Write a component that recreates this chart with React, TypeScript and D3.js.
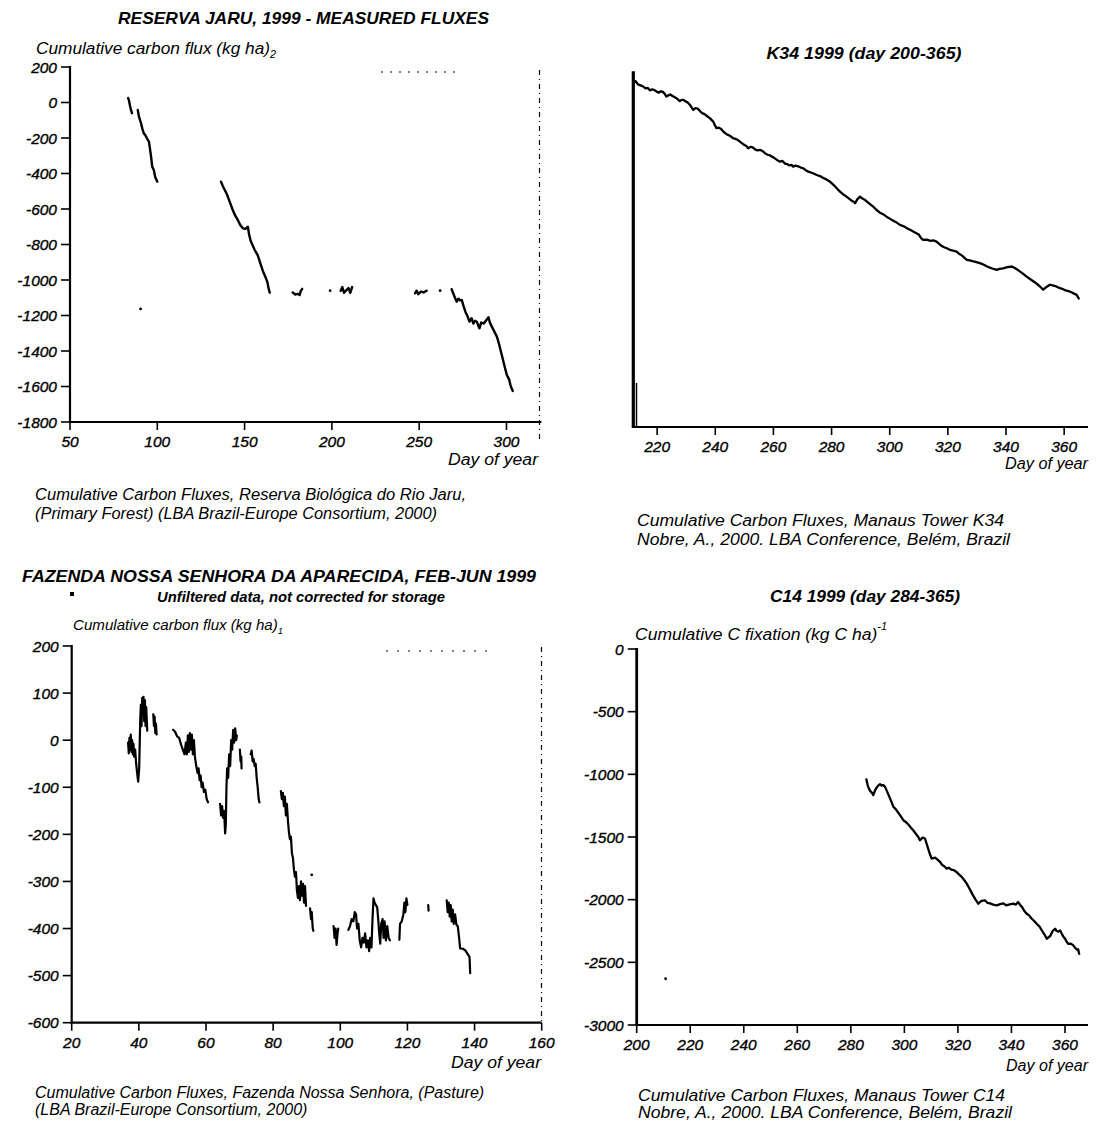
import React from "react";
import * as d3 from "d3";

type Pt = [number, number];

// ---------- Panel 1: Reserva Jaru ----------
const jaruXTicks = [50, 100, 150, 200, 250, 300];
const jaruYTicks = [200, 0, -200, -400, -600, -800, -1000, -1200, -1400, -1600, -1800];
const jaruSeg1: Pt[] = [[83.3, 25], [83.8, 10], [84.4, -20], [85.0, -45], [85.5, -60]];
const jaruSeg2: Pt[] = [[88.8, -42], [89.5, -80], [90.5, -110], [91.5, -150], [92.3, -174], [93.2, -185], [94.0, -200], [95.2, -221], [95.8, -260], [96.5, -310], [97.1, -362], [98.0, -380], [98.8, -420], [100.0, -446]];
const jaruSeg3: Pt[] = [[136.5, -446], [137.5, -470], [138.5, -490], [140.0, -520], [141.5, -560], [143.0, -600], [144.5, -635], [146.0, -660], [147.5, -690], [149.0, -709], [150.5, -712], [151.9, -700], [152.5, -740], [153.5, -780], [155.8, -831], [157.5, -860], [159.0, -905], [160.5, -950], [162.0, -985], [163.0, -1010], [163.8, -1050], [164.4, -1071]];
const jaruSeg4: Pt[] = [[177.5, -1070], [179, -1082], [180.5, -1078], [181.5, -1085], [182.3, -1060], [183, -1050]];
const jaruSeg5: Pt[] = [[205, -1062], [206, -1040], [207, -1072], [208.5, -1055], [209.5, -1045], [210.5, -1072], [211.6, -1040]];
const jaruSeg6: Pt[] = [[247.6, -1075], [248.5, -1060], [249.5, -1080], [251, -1065], [252.5, -1070], [254.3, -1060]];
const jaruSeg7: Pt[] = [[268.6, -1052], [269.5, -1075], [270.5, -1100], [271.5, -1122], [272.5, -1105], [273.5, -1115], [274.4, -1113], [275.5, -1150], [276.5, -1180], [277.5, -1200], [278.8, -1235], [280, -1215], [281, -1245], [282, -1230], [283, -1235], [284.5, -1272], [285.5, -1240], [287, -1245], [288.5, -1225], [289.7, -1210], [290.5, -1240], [292, -1270], [294.5, -1319], [296, -1370], [297.5, -1430], [299, -1490], [300.2, -1535], [301.5, -1560], [302.5, -1600], [303.6, -1625]];
const jaruDots: Pt[] = [[90.4, -1163], [199, -1060], [262, -1060]];

// ---------- Panel 2: K34 ----------
const k34XTicks = [220, 240, 260, 280, 300, 320, 340, 360];
const k34Series: Pt[] = [[212.0, 140], [212.6, 150], [213.4, 132], [214.5, 125], [215.3, 118], [216.0, 110], [216.8, 112], [217.5, 98], [218.3, 104], [219.0, 100], [219.8, 92], [220.5, 85], [221.2, 93], [222.0, 90], [222.6, 78], [223.2, 63], [223.9, 70], [224.5, 75], [225.3, 66], [226.0, 60], [226.8, 52], [227.8, 38], [228.4, 44], [229.0, 45], [229.8, 36], [230.5, 30], [231.4, 14], [232.4, -12], [233.2, -2], [234, -5], [234.8, -20], [235.5, -30], [236.3, -36], [237, -45], [238.2, -60], [239.3, -78], [239.9, -100], [240.4, -115], [241.2, -112], [242, -120], [243, -138], [244, -150], [245, -158], [246.2, -172], [247.1, -176], [248, -185], [249, -198], [250, -210], [250.7, -216], [251.3, -228], [252.2, -220], [253, -225], [253.8, -236], [254.5, -240], [255.5, -238], [256.5, -247], [257.2, -258], [258, -265], [259, -270], [260, -280], [261.2, -294], [262.3, -304], [263.1, -300], [264, -315], [264.8, -318], [265.5, -325], [266.2, -322], [266.8, -332], [267.6, -326], [268.5, -330], [269.4, -337], [270.2, -341], [271.1, -352], [272, -360], [273.4, -368], [274.9, -379], [276, -385], [277, -395], [278.2, -404], [279.4, -416], [280.2, -428], [281, -440], [282, -458], [282.9, -473], [284, -488], [285, -500], [286, -512], [287, -525], [287.6, -530], [288.1, -538], [288.9, -515], [289.8, -501], [290.6, -512], [291.5, -520], [293, -540], [294.3, -557], [295.4, -575], [296.5, -590], [297.7, -600], [298.9, -614], [300, -625], [301, -635], [302.2, -645], [303.5, -660], [304.8, -668], [306, -680], [307, -688], [308.1, -698], [309, -706], [310, -715], [310.8, -735], [311.5, -745], [312.8, -744], [314, -750], [315, -748], [316.1, -755], [317.3, -772], [318.5, -785], [319.6, -792], [320.7, -801], [321.8, -805], [323, -811], [324, -825], [325, -835], [325.8, -848], [326.5, -857], [327.5, -860], [328.5, -865], [329.8, -870], [331, -876], [332.2, -884], [333.5, -895], [335, -905], [336.8, -914], [337.8, -908], [339, -905], [340.5, -898], [342, -895], [343.2, -905], [344.5, -920], [345.8, -935], [347.1, -952], [348.5, -968], [350, -985], [351.5, -1005], [352.8, -1026], [353.8, -1012], [355.1, -998], [356, -1002], [357, -1005], [357.8, -1012], [358.6, -1017], [359.5, -1022], [360.5, -1030], [361.5, -1034], [362.5, -1040], [363.4, -1048], [364.3, -1055], [365, -1075]];

// ---------- Panel 3: Fazenda ----------
const fazXTicks = [20, 40, 60, 80, 100, 120, 140, 160];
const fazYTicks = [200, 100, 0, -100, -200, -300, -400, -500, -600];
const fazSegA: Pt[] = [[36.8, -5], [37.0, -28], [37.2, 5], [37.4, -20], [37.6, 12], [37.8, -25], [38.0, 0], [38.2, -30], [38.4, -8], [38.6, -35], [38.9, -20], [39.2, -50], [39.5, -70], [39.8, -88], [40.1, -60], [40.4, 40], [40.6, 75], [40.8, 30], [41.0, 90], [41.2, 55], [41.4, 92], [41.6, 40], [41.8, 85], [42.0, 30], [42.2, 70], [42.5, 20]];
const fazSegB: Pt[] = [[44.3, 55], [44.5, 30], [44.7, 50], [44.9, 15], [45.1, 35], [45.3, 12]];
const fazSegC: Pt[] = [[50.2, 22], [50.8, 18], [51.4, 8], [52.0, 5], [52.6, -10], [53.2, -22], [53.6, -30], [54.0, -5], [54.3, -30], [54.6, 10], [54.9, -25], [55.2, 15], [55.5, -20], [55.8, 12], [56.1, -30], [56.4, 0], [56.7, -35], [57.1, -55], [57.5, -70], [57.8, -60], [58.1, -85], [58.4, -75], [58.7, -100], [59.0, -90], [59.4, -110], [59.8, -105], [60.2, -125], [60.6, -132]];
const fazSegD: Pt[] = [[64.2, -135], [64.5, -160], [64.8, -140], [65.1, -165], [65.4, -150], [65.7, -198], [65.9, -180], [66.1, -100], [66.3, -60], [66.6, -80], [66.9, -30], [67.2, -55], [67.5, 0], [67.8, -20], [68.1, 22], [68.4, -5], [68.7, 25], [69.0, 0], [69.2, 10]];
const fazSegE: Pt[] = [[70.1, -20], [70.3, -45], [70.5, -35], [70.6, -60]];
const fazSegF: Pt[] = [[73.3, -30], [73.6, -22], [73.9, -45], [74.2, -40], [74.5, -55], [74.8, -50], [75.1, -80], [75.4, -100], [75.7, -125], [75.9, -132]];
const fazSegG: Pt[] = [[82.3, -108], [82.6, -125], [82.9, -112], [83.2, -140], [83.5, -120], [83.8, -160], [84.1, -135], [84.4, -170], [84.7, -195], [85.0, -210], [85.3, -205], [85.6, -240], [85.9, -250], [86.2, -275], [86.5, -290], [86.8, -280], [87.1, -320], [87.4, -335], [87.7, -310], [88.0, -340], [88.3, -300], [88.6, -330], [88.9, -305], [89.2, -345], [89.5, -310], [89.8, -352]];
const fazSegH: Pt[] = [[91.0, -357], [91.3, -380], [91.5, -365], [91.8, -400], [92.0, -405]];
const fazSegI: Pt[] = [[98.0, -395], [98.3, -420], [98.6, -400], [98.9, -435], [99.2, -410], [99.4, -400]];
const fazSegJ: Pt[] = [[102.4, -403], [102.9, -395], [103.4, -380], [103.9, -385], [104.3, -365], [104.7, -370], [105.0, -400], [105.4, -390], [105.8, -425], [106.2, -440], [106.6, -420], [107.0, -430], [107.4, -410], [107.8, -440], [108.2, -425], [108.6, -448], [108.9, -420], [109.3, -440], [109.6, -380], [109.9, -336], [110.2, -345], [110.6, -350], [111.0, -355], [111.3, -380], [111.6, -410], [111.9, -432], [112.2, -390], [112.6, -380], [112.9, -420], [113.2, -385], [113.6, -425], [114.0, -395], [114.4, -420], [114.8, -425]];
const fazSegK: Pt[] = [[117.6, -424], [117.8, -390], [118.3, -385], [118.8, -370], [119.1, -345], [119.4, -365], [119.7, -336], [120.0, -350]];
const fazSegL: Pt[] = [[126.2, -350], [126.3, -362]];
const fazSegM: Pt[] = [[131.7, -340], [132.0, -365], [132.3, -345], [132.6, -375], [132.9, -350], [133.2, -385], [133.5, -360], [133.8, -390], [134.2, -370], [134.6, -392], [135.0, -395], [135.4, -420], [135.7, -442], [136.5, -443], [137.2, -446], [138.0, -455], [138.5, -460], [138.7, -495]];
const fazDots: Pt[] = [[91.5, -286]];

// ---------- Panel 4: C14 ----------
const c14XTicks = [200, 220, 240, 260, 280, 300, 320, 340, 360];
const c14YTicks = [0, -500, -1000, -1500, -2000, -2500, -3000];
const c14Series: Pt[] = [[285.8, -1040], [286.2, -1080], [286.5, -1100], [287.0, -1125], [287.5, -1140], [288.0, -1150], [288.4, -1166], [289.0, -1130], [289.5, -1110], [290.2, -1090], [290.9, -1078], [291.5, -1090], [292.0, -1085], [292.8, -1100], [293.4, -1130], [294.0, -1160], [295.0, -1210], [295.9, -1260], [296.7, -1275], [297.5, -1300], [298.5, -1330], [299.6, -1366], [300.5, -1380], [301.5, -1400], [302.4, -1425], [303.3, -1446], [304.5, -1480], [305.2, -1500], [305.8, -1526], [306.8, -1505], [307.7, -1512], [308.4, -1560], [309.0, -1600], [309.6, -1640], [310.2, -1672], [311.5, -1665], [312.7, -1686], [313.4, -1700], [314, -1720], [315, -1735], [315.8, -1752], [316.6, -1745], [317.5, -1760], [318.5, -1765], [319.5, -1779], [320.5, -1800], [321.5, -1820], [322.4, -1845], [323.3, -1872], [324.4, -1915], [325.5, -1960], [326.6, -2000], [327.6, -2032], [328.8, -2010], [330.1, -2005], [331, -2025], [332, -2030], [333.2, -2040], [334.5, -2045], [335.8, -2035], [337, -2030], [338, -2045], [339, -2040], [340.7, -2032], [341.6, -2040], [342.5, -2019], [343.2, -2040], [344, -2060], [344.8, -2090], [345.7, -2112], [346.6, -2125], [347.5, -2150], [348.5, -2170], [349.4, -2192], [350.5, -2215], [351.5, -2250], [352.4, -2280], [353.2, -2312], [353.9, -2300], [354.5, -2290], [355.4, -2250], [356.3, -2232], [356.9, -2250], [357.5, -2255], [358.2, -2245], [358.8, -2272], [359.4, -2295], [360, -2310], [360.6, -2335], [361.2, -2352], [362.2, -2350], [363.1, -2365], [363.8, -2385], [364.5, -2400], [364.9, -2395], [365.3, -2432]];
const c14Dots: Pt[] = [[210.8, -2631]];

const FONT = "'Liberation Sans', Arial, Helvetica, sans-serif";

type PanelProps = {
  xDomain: [number, number];
  xRange: [number, number];
  yDomain: [number, number];
  yRange: [number, number];
  xTicks: number[];
  yTicks: number[] | null;
  segments: Pt[][];
  dots: Pt[];
  lineWidth: number;
  yAxisWidth?: number;
};

function Panel(p: PanelProps) {
  const x = d3.scaleLinear().domain(p.xDomain).range(p.xRange);
  const y = d3.scaleLinear().domain(p.yDomain).range(p.yRange);
  const line = d3.line<Pt>().x((d) => x(d[0])).y((d) => y(d[1])).curve(d3.curveLinear);
  const x0 = p.xRange[0];
  const yb = p.yRange[0];
  const yt = p.yRange[1];
  return (
    <g>
      {p.segments.map((s, i) => (
        <path key={i} d={line(s) || ""} fill="none" stroke="#000" strokeWidth={p.lineWidth} strokeLinejoin="round" strokeLinecap="round" />
      ))}
      {p.dots.map((d, i) => (
        <circle key={"d" + i} cx={x(d[0])} cy={y(d[1])} r={1.4} fill="#000" />
      ))}
      <line x1={x0} x2={x0} y1={yt - 1} y2={yb + 1} stroke="#000" strokeWidth={p.yAxisWidth || 2.2} />
      <line x1={x0 - 1} x2={p.xRange[1]} y1={yb} y2={yb} stroke="#000" strokeWidth={2.2} />
      {p.xTicks.map((t) => (
        <g key={"xt" + t}>
          <line x1={x(t)} x2={x(t)} y1={yb} y2={yb + 8} stroke="#000" strokeWidth={1.6} />
          <text x={x(t)} y={yb + 25} textAnchor="middle" fontSize={15.5} fontStyle="italic" fontFamily={FONT} stroke="#000" strokeWidth={0.35}>{t}</text>
        </g>
      ))}
      {p.yTicks && p.yTicks.map((t) => (
        <g key={"yt" + t}>
          <line x1={x0 - 9} x2={x0} y1={y(t)} y2={y(t)} stroke="#000" strokeWidth={1.6} />
          <text x={x0 - 13} y={y(t)} dy="0.36em" textAnchor="end" fontSize={15.5} fontStyle="italic" fontFamily={FONT} stroke="#000" strokeWidth={0.35}>{t}</text>
        </g>
      ))}
    </g>
  );
}

function T(props: { x: number; y: number; w?: number; size?: number; bold?: boolean; anchor?: "start" | "middle" | "end"; children: React.ReactNode }) {
  return (
    <text
      x={props.x}
      y={props.y}
      fontSize={props.size || 16}
      fontStyle="italic"
      fontWeight={props.bold ? "bold" : "normal"}
      fontFamily={FONT}
      textAnchor={props.anchor || "start"}
      textLength={props.w}
      lengthAdjust={props.w ? "spacingAndGlyphs" : undefined}
    >
      {props.children}
    </text>
  );
}

export default function App() {
  return (
    <svg width={1104} height={1126} viewBox="0 0 1104 1126" style={{ position: "absolute", left: 0, top: 0, background: "#fff" }}>
      <rect x={0} y={0} width={1104} height={1126} fill="#fff" />

      {/* ===== Panel 1: Reserva Jaru ===== */}
      <T x={303.5} y={24} w={371} size={17} bold anchor="middle">RESERVA JARU, 1999 - MEASURED FLUXES</T>
      <T x={36} y={54} w={240}>Cumulative carbon flux (kg ha)<tspan fontSize={10} dy={4}>2</tspan></T>
      <Panel
        xDomain={[50, 320]} xRange={[70, 541.4]}
        yDomain={[-1800, 200]} yRange={[422, 67]}
        xTicks={jaruXTicks} yTicks={jaruYTicks}
        segments={[jaruSeg1, jaruSeg2, jaruSeg3, jaruSeg4, jaruSeg5, jaruSeg6, jaruSeg7]}
        dots={jaruDots} lineWidth={2.4}
      />
      <line x1={381} x2={462} y1={72} y2={72} stroke="#000" strokeWidth={1} strokeDasharray="2 7" />
      <line x1={539.5} x2={539.5} y1={70} y2={440} stroke="#000" strokeWidth={1.2} strokeDasharray="5 4 1 4" />
      <T x={538} y={465} w={90} anchor="end">Day of year</T>
      <T x={35} y={500} w={431}>Cumulative Carbon Fluxes, Reserva Biológica do Rio Jaru,</T>
      <T x={35} y={519} w={402}>(Primary Forest) (LBA Brazil-Europe Consortium, 2000)</T>

      {/* ===== Panel 2: K34 ===== */}
      <T x={864} y={59} w={195} size={17} bold anchor="middle">K34 1999 (day 200-365)</T>
      <Panel
        xDomain={[211.8, 368.2]} xRange={[633.3, 1088]}
        yDomain={[-1800, 200]} yRange={[427, 72.3]}
        xTicks={k34XTicks} yTicks={null}
        segments={[k34Series]} dots={[]} lineWidth={2.3} yAxisWidth={3.2}
      />
      <line x1={636.5} x2={636.5} y1={383} y2={426} stroke="#000" strokeWidth={1.5} />
      <T x={1088} y={469} w={83} anchor="end">Day of year</T>
      <T x={637} y={526} w={367}>Cumulative Carbon Fluxes, Manaus Tower K34</T>
      <T x={637} y={545} w={373}>Nobre, A., 2000. LBA Conference, Belém, Brazil</T>

      {/* ===== Panel 3: Fazenda ===== */}
      <T x={279} y={582} w={514} size={16} bold anchor="middle">FAZENDA NOSSA SENHORA DA APARECIDA, FEB-JUN 1999</T>
      <T x={301} y={602} w={288} size={14} bold anchor="middle">Unfiltered data, not corrected for storage</T>
      <rect x={70} y={592} width={4} height={4} fill="#000" />
      <T x={73} y={630} w={210} size={14.5}>Cumulative carbon flux (kg ha)<tspan fontSize={9} dy={4}>1</tspan></T>
      <Panel
        xDomain={[20, 160]} xRange={[71.7, 541.7]}
        yDomain={[-600, 200]} yRange={[1022.7, 646]}
        xTicks={fazXTicks} yTicks={fazYTicks}
        segments={[fazSegA, fazSegB, fazSegC, fazSegD, fazSegE, fazSegF, fazSegG, fazSegH, fazSegI, fazSegJ, fazSegK, fazSegL, fazSegM]}
        dots={fazDots} lineWidth={2.2}
      />
      <line x1={386} x2={490} y1={651} y2={651} stroke="#000" strokeWidth={1} strokeDasharray="2 9" />
      <line x1={541.5} x2={541.5} y1={647} y2={1022} stroke="#000" strokeWidth={1.2} strokeDasharray="5 4 1 4" />
      <T x={541} y={1068} w={90} anchor="end">Day of year</T>
      <T x={35} y={1098}>Cumulative Carbon Fluxes, Fazenda Nossa Senhora, (Pasture)</T>
      <T x={35} y={1115}>(LBA Brazil-Europe Consortium, 2000)</T>

      {/* ===== Panel 4: C14 ===== */}
      <T x={865} y={602} w={190} size={17} bold anchor="middle">C14 1999 (day 284-365)</T>
      <T x={635} y={640} w={252}>Cumulative C fixation (kg C ha)<tspan fontSize={10} dy={-10}>-1</tspan></T>
      <Panel
        xDomain={[200, 368.6]} xRange={[636.7, 1088]}
        yDomain={[-3000, 0]} yRange={[1025, 649]}
        xTicks={c14XTicks} yTicks={c14YTicks}
        segments={[c14Series]} dots={c14Dots} lineWidth={2.3} yAxisWidth={2.8}
      />
      <T x={1088} y={1071} w={82} anchor="end">Day of year</T>
      <T x={638} y={1101} w={367}>Cumulative Carbon Fluxes, Manaus Tower C14</T>
      <T x={638} y={1118} w={374}>Nobre, A., 2000. LBA Conference, Belém, Brazil</T>
    </svg>
  );
}
